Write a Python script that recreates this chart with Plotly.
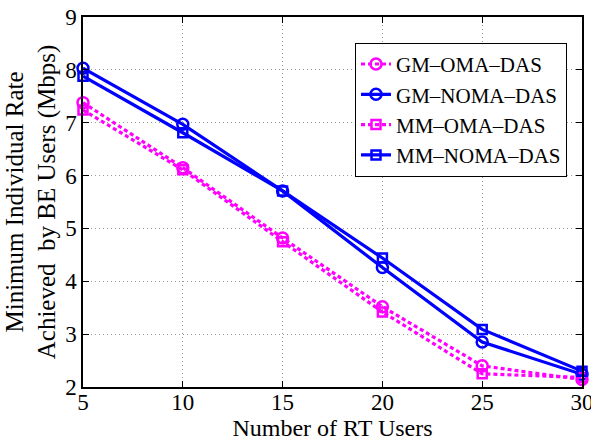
import plotly.graph_objects as go

rt_users = [5, 10, 15, 20, 25, 30]
gm_oma_das = [7.38, 6.15, 4.82, 3.52, 2.40, 2.14]
gm_noma_das = [8.03, 6.97, 5.71, 4.26, 2.85, 2.24]
mm_oma_das = [7.24, 6.11, 4.75, 3.42, 2.25, 2.18]
mm_noma_das = [7.88, 6.81, 5.71, 4.44, 3.09, 2.30]

MAG = "#FF00FF"
BLU = "#0000FF"
FONT = "Liberation Serif, Times New Roman, serif"

fig = go.Figure()
series = [
    ("GM\u2013OMA\u2013DAS", gm_oma_das, MAG, "4px,3px", "circle-open", 11),
    ("GM\u2013NOMA\u2013DAS", gm_noma_das, BLU, "solid", "circle-open", 11),
    ("MM\u2013OMA\u2013DAS", mm_oma_das, MAG, "4px,3px", "square-open", 9),
    ("MM\u2013NOMA\u2013DAS", mm_noma_das, BLU, "solid", "square-open", 9),
]
for name, vals, col, dash, sym, sz in series:
    fig.add_trace(go.Scatter(
        x=rt_users, y=vals, name=name, mode="lines+markers",
        line=dict(color=col, width=3.2, dash=dash),
        marker=dict(symbol=sym, size=sz, color=col, line=dict(color=col, width=2.5)),
        cliponaxis=False,
    ))

axis_common = dict(
    showline=True, linecolor="black", linewidth=1.5, mirror="ticks",
    ticks="inside", ticklen=6, tickcolor="black",
    showgrid=True, gridcolor="#9a9a9a", griddash="1px,3px", gridwidth=1,
    zeroline=False, automargin=False, ticklabeloverflow="allow",
    tickfont=dict(family=FONT, size=23, color="black"),
)
fig.update_xaxes(range=[5, 30], tickvals=[5, 10, 15, 20, 25, 30],
                 title=dict(text="Number of RT Users", font=dict(family=FONT, size=24, color="black"), standoff=2),
                 ticklabelstandoff=-6,
                 **axis_common)
fig.update_yaxes(range=[2, 9], tickvals=[2, 3, 4, 5, 6, 7, 8, 9],
                 title=dict(text="Minimum Individual Rate<br>Achieved  by BE Users (Mbps)",
                            font=dict(family=FONT, size=25, color="black"), standoff=2),
                 ticklabelstandoff=0,
                 **axis_common)

fig.update_layout(
    width=591, height=446,
    margin=dict(l=83, r=9, t=17, b=59),
    plot_bgcolor="white", paper_bgcolor="white",
    font=dict(family=FONT, color="black"),
    legend=dict(x=0.7575, y=0.749, xanchor="center", yanchor="middle",
                bgcolor="white", bordercolor="black", borderwidth=1,
                font=dict(family=FONT, size=21, color="black"),
                tracegroupgap=0, itemwidth=30),
    showlegend=True,
)
fig.write_html("out.html", config={"displayModeBar": False},
               post_script="document.body.style.margin='0px';")
